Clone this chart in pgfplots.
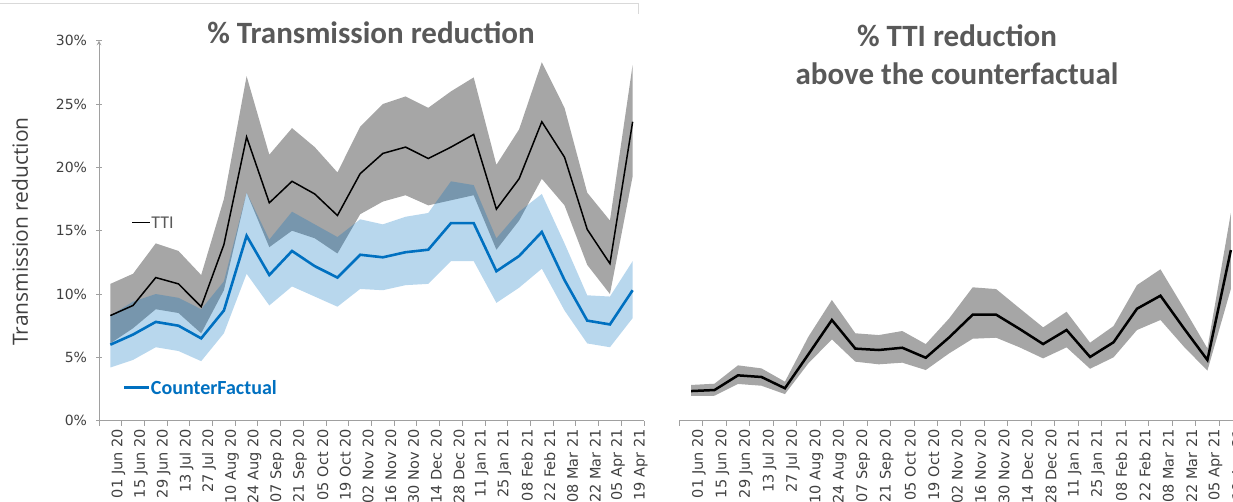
\documentclass[border=0pt]{standalone}
\usepackage{pgfplots}
\pgfplotsset{compat=1.18}
\usepackage{pgfplotstable}
\usepackage{fontspec}
\setmainfont{Open Sans}
\newfontfamily\carlito{Carlito}
\newfontfamily\dejavu{DejaVu Sans}
\definecolor{bandgrey}{RGB}{166,166,166}
\definecolor{cfblue}{RGB}{0,112,192}
\definecolor{titlegrey}{RGB}{89,89,89}
\definecolor{labgrey}{RGB}{64,64,64}
\definecolor{axgrey}{RGB}{160,160,160}
\definecolor{framegrey}{RGB}{217,217,217}

\pgfplotstableread{
x tti cf d
0 8.3 6.0 2.34
1 9.1 6.8 2.42
2 11.3 7.8 3.58
3 10.8 7.5 3.45
4 9.0 6.5 2.56
5 13.9 8.7 5.24
6 22.4 14.6 7.95
7 17.2 11.5 5.69
8 18.9 13.4 5.58
9 17.9 12.2 5.76
10 16.2 11.3 4.97
11 19.5 13.1 6.58
12 21.1 12.9 8.37
13 21.6 13.3 8.37
14 20.7 13.5 7.24
15 21.6 15.6 6.05
16 22.6 15.6 7.16
17 16.7 11.8 5.03
18 19.1 13.0 6.19
19 23.6 14.9 8.84
20 20.8 11.1 9.87
21 15.1 7.9 7.29
22 12.4 7.6 4.79
23 23.6 10.3 13.47
}\data

\pgfplotsset{
  excelaxis/.style={
    scale only axis,
    height=380pt,
    xmin=-0.5, xmax=23.5,
    ymin=0, ymax=30,
    axis x line=bottom,
    axis line style={-, draw=axgrey, line width=1pt},
    xtick={0,...,23},
    xticklabels={01 Jun 20,15 Jun 20,29 Jun 20,13 Jul 20,27 Jul 20,10 Aug 20,24 Aug 20,07 Sep 20,21 Sep 20,05 Oct 20,19 Oct 20,02 Nov 20,16 Nov 20,30 Nov 20,14 Dec 20,28 Dec 20,11 Jan 21,25 Jan 21,08 Feb 21,22 Feb 21,08 Mar 21,22 Mar 21,05 Apr 21,19 Apr 21},
    minor xtick={-0.5,0.5,...,23.5},
    x tick style={draw=none},
    minor x tick style={draw=axgrey, line width=1pt},
    tick align=outside,
    minor tick length=5pt,
    major tick length=5pt,
    xticklabel style={rotate=90, anchor=east, font=\dejavu\fontsize{14.5}{16}\selectfont, text=labgrey, yshift=-8pt},
    /pgf/number format/assume math mode=true,
  }
}

\begin{document}
\begin{tikzpicture}
\draw[framegrey, line width=1pt] (0pt,498pt) -- (638pt,498pt) -- (638pt,488pt);

% left chart
\begin{axis}[excelaxis,
  at={(99pt,81.3pt)}, anchor=south west,
  width=545pt,
  axis y line=left,
  ytick={0,5,...,30},
  yticklabel={\pgfmathprintnumber{\tick}\%},
  y tick style={draw=axgrey, line width=1pt},
  yticklabel style={font=\dejavu\fontsize{14}{16}\selectfont, text=labgrey, xshift=-6pt},
  ylabel={Transmission reduction},
  ylabel style={at={(axis description cs:-0.145,0.498)}, anchor=center, font=\fontsize{21}{24}\selectfont, text=labgrey},
]
% TTI band: upper bound forward, lower bound backward
\addplot[fill=bandgrey, draw=none, forget plot] coordinates {
(0,10.8) (1,11.6) (2,14.0) (3,13.4) (4,11.5) (5,17.5) (6,27.2) (7,21.0) (8,23.1) (9,21.6) (10,19.6) (11,23.2)
(12,25.0) (13,25.6) (14,24.7) (15,26.0) (16,27.1) (17,20.2) (18,23.0) (19,28.3) (20,24.7) (21,18.0) (22,15.8) (23,28.1)
(23,19.3) (22,10.0) (21,12.3) (20,17.0) (19,19.1) (18,15.8) (17,13.5) (16,17.8) (15,17.4) (14,17.0) (13,17.8) (12,17.3)
(11,16.3) (10,13.2) (9,14.4) (8,15.0) (7,13.7) (6,18.0) (5,10.3) (4,6.9) (3,8.5) (2,8.8) (1,7.3) (0,6.1)
} -- cycle;
% CounterFactual band
\addplot[fill=cfblue, fill opacity=0.28, draw=none, forget plot] coordinates {
(0,8.3) (1,9.4) (2,10.0) (3,9.7) (4,8.8) (5,11.0) (6,18.0) (7,14.3) (8,16.5) (9,15.5) (10,14.5) (11,15.9)
(12,15.5) (13,16.1) (14,16.4) (15,18.9) (16,18.6) (17,14.4) (18,16.5) (19,17.9) (20,14.0) (21,9.9) (22,9.8) (23,12.6)
(23,8.1) (22,5.8) (21,6.1) (20,8.7) (19,12.0) (18,10.5) (17,9.3) (16,12.6) (15,12.6) (14,10.8) (13,10.7) (12,10.3)
(11,10.4) (10,9.0) (9,9.8) (8,10.6) (7,9.1) (6,11.6) (5,6.9) (4,4.7) (3,5.5) (2,5.8) (1,4.8) (0,4.2)
} -- cycle;
\addplot[black, line width=1.5pt, no marks] table[x=x,y=tti]{\data};
\addplot[cfblue, line width=2.6pt, no marks] table[x=x,y=cf]{\data};
\draw[black, line width=1.5pt] (axis cs:0.97,15.65) -- (axis cs:1.76,15.65);
\node[anchor=west, inner sep=0pt, text=titlegrey, font=\carlito\fontsize{18}{20}\selectfont] at (axis cs:1.8,15.65) {TTI};
\draw[cfblue, line width=2.6pt] (axis cs:0.62,2.6) -- (axis cs:1.72,2.6);
\node[anchor=west, inner sep=0pt, text=cfblue, font=\carlito\bfseries\fontsize{20}{22}\selectfont] at (axis cs:1.78,2.6) {CounterFactual};
\end{axis}

% right chart
\begin{axis}[excelaxis,
  at={(679.3pt,81.3pt)}, anchor=south west,
  width=563.3pt,
  axis y line=none,
]
\addplot[fill=bandgrey, draw=none, forget plot] coordinates {
(0,2.82) (1,2.92) (2,4.37) (3,4.13) (4,3.08) (5,6.63) (6,9.53) (7,6.90) (8,6.76) (9,7.08) (10,6.05) (11,8.08)
(12,10.53) (13,10.39) (14,8.87) (15,7.37) (16,8.60) (17,6.16) (18,7.47) (19,10.71) (20,11.95) (21,8.87) (22,5.71) (23,16.40)
(23,10.40) (22,3.95) (21,5.84) (20,7.95) (19,7.16) (18,5.00) (17,4.10) (16,5.79) (15,4.92) (14,5.79) (13,6.55) (12,6.47)
(11,5.32) (10,4.00) (9,4.58) (8,4.45) (7,4.66) (6,6.42) (5,4.53) (4,2.10) (3,2.76) (2,2.90) (1,1.97) (0,1.95)
} -- cycle;
\addplot[black, line width=2.5pt, no marks] table[x=x,y=d]{\data};
\end{axis}

\node[anchor=base, text=titlegrey, font=\carlito\bfseries\fontsize{31}{36}\selectfont] at (371pt,458pt) {\% Transmission reduction};
\node[anchor=base, text=titlegrey, font=\carlito\bfseries\fontsize{31}{36}\selectfont] at (957pt,455pt) {\% TTI reduction};
\node[anchor=base, text=titlegrey, font=\carlito\bfseries\fontsize{31}{36}\selectfont] at (957pt,417pt) {above the counterfactual};
\pgfresetboundingbox
\path[use as bounding box] (0pt,0pt) rectangle (1233pt,502pt);
\end{tikzpicture}
\end{document}
